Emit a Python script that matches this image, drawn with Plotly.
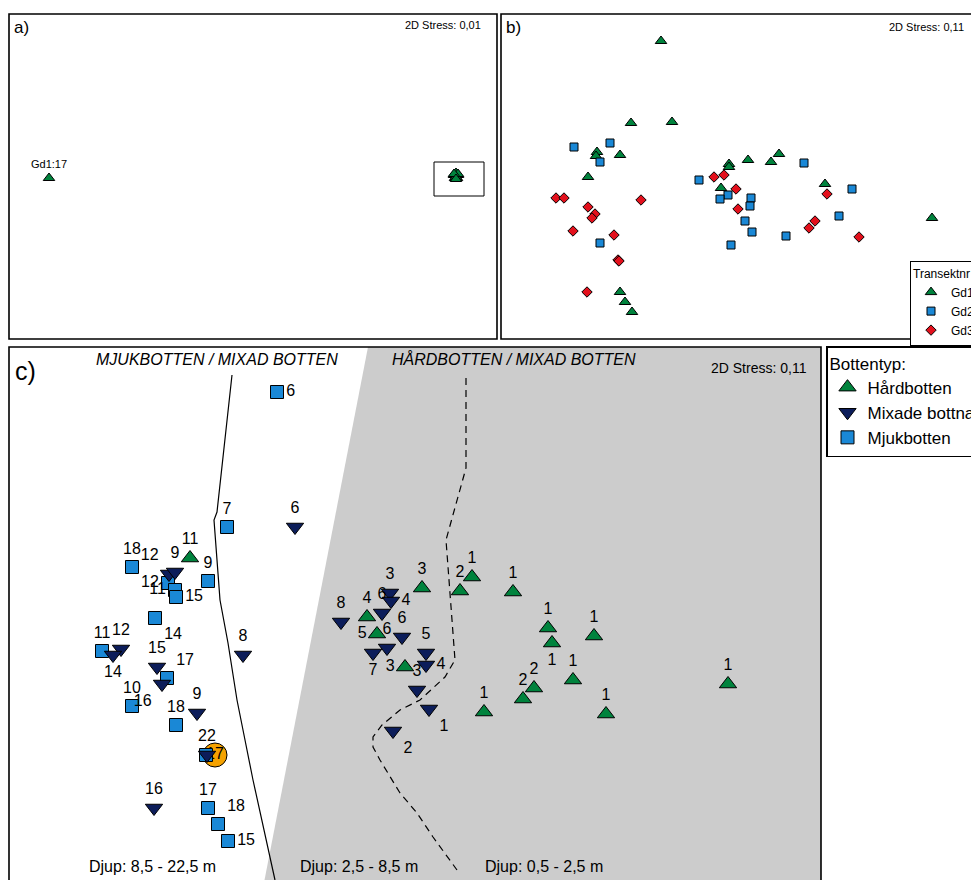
import plotly.graph_objects as go

W, H = 979, 880
OFF = 8  # the page body margin that the browser adds around the plot

# ---------------- Panel a (NMDS, all transects, stress 0.01) ----------------
a_gd1_x = [-2.04, 2.01, 2.05, 2.03, 2.02, 2.04, 2.03, 2.05, 2.01, 2.03]
a_gd1_y = [-0.01, 0.02, 0.02, 0.04, -0.01, -0.01, 0.00, 0.03, 0.03, -0.02]
a_gd1_lab = ["Gd1:17", "", "", "", "", "", "", "", "", ""]
a_box_x = [1.81, 2.31]
a_box_y = [-0.19, 0.15]

# ---------------- Panel b (NMDS per transect, stress 0.11) ----------------
b_gd1_x = [-0.79, -1.09, -0.68, -1.43, -1.44, -1.20, -1.52, -0.11, -0.11, 0.08, 0.39, 0.31, -0.19, 0.85, 1.92, -1.20, -1.15, -1.08]
b_gd1_y = [1.36, 0.54, 0.55, 0.25, 0.21, 0.22, 0.00, 0.13, 0.10, 0.17, 0.23, 0.15, -0.11, -0.07, -0.41, -1.15, -1.25, -1.35]
b_gd2_x = [-1.66, -1.30, -1.40, -0.41, 0.64, -0.12, -0.20, 0.11, 0.10, 1.12, 0.99, 0.05, 0.12, 0.46, -0.09, -1.40]
b_gd2_y = [0.30, 0.34, 0.15, -0.03, 0.14, -0.18, -0.22, -0.21, -0.29, -0.12, -0.39, -0.44, -0.55, -0.59, -0.68, -0.66]
b_gd3_x = [-0.26, -0.16, -0.04, -0.02, -1.84, -1.76, -1.52, -1.45, -1.48, -0.99, -1.67, -1.26, -1.22, -1.21, -1.53, 0.87, 0.75, 0.69, 1.19]
b_gd3_y = [0.00, 0.02, -0.12, -0.32, -0.21, -0.21, -0.30, -0.37, -0.41, -0.23, -0.54, -0.58, -0.83, -0.84, -1.15, -0.17, -0.44, -0.51, -0.60]

# ---------------- Panel c (NMDS by bottom type, stress 0.11) ----------------
hard_x = [-2.25, 0.07, 0.45, 0.57, 0.98, 1.33, 1.37, 1.79, 1.58, 1.19, 1.08, 0.69, 1.91, 3.13, -0.48, -0.38, -0.10]
hard_y = [0.55, 0.25, 0.22, 0.36, 0.21, -0.15, -0.30, -0.23, -0.67, -0.75, -0.86, -0.99, -1.01, -0.71, -0.04, -0.21, -0.54]
hard_lab = ["11", "3", "2", "1", "1", "1", "1", "1", "1", "2", "2", "1", "1", "1", "4", "5", "3"]
hard_pos = ["top center"] * 6 + ["bottom center"] + ["top center"] * 7 + ["top center", "middle left", "middle left"]

mixed_x = [-2.46, -2.40, -2.94, -3.02, -2.58, -2.53, -1.72, -2.18, -2.08, -2.61, -1.20,
           -0.25, -0.24, -0.33, -0.74, -0.13, -0.42, -0.28, 0.11, 0.11, 0.02, 0.14, -0.22]
mixed_y = [0.39, 0.41, -0.36, -0.42, -0.54, -0.71, -0.42, -1.00, -1.42, -1.95, 0.86,
           0.20, 0.12, 0.00, -0.09, -0.24, -0.40, -0.35, -0.40, -0.52, -0.77, -0.96, -1.18]
mixed_lab = ["12", "9", "12", "14", "15", "16", "8", "9", "22", "16", "6",
             "3", "4", "6", "8", "6", "7", "6", "5", "4", "3", "1", "2"]
mixed_pos = ["top left", "top center", "top center", "bottom center", "top center", "bottom left",
             "top center", "top center", "top center", "top center", "top center",
             "top center", "middle right", "top center", "top center", "top center", "bottom center",
             "top center", "top center", "middle right", "top center", "bottom right", "bottom right"]

soft_x = [-1.38, -1.88, -2.83, -2.47, -2.07, -2.40, -2.39, -2.60, -3.13, -2.48, -2.83, -2.39, -2.09, -2.07, -1.97, -1.87]
soft_y = [2.21, 0.86, 0.46, 0.30, 0.32, 0.23, 0.16, -0.05, -0.38, -0.65, -0.93, -1.12, -1.42, -1.95, -2.11, -2.28]
soft_lab = ["6", "7", "18", "12", "9", "11", "15", "14", "11", "17", "10", "18", "", "17", "18", "15"]
soft_pos = ["middle right", "top center", "top center", "middle left", "top center", "middle left",
            "middle right", "bottom right", "top center", "top right", "top center", "top center",
            "top center", "top center", "top right", "middle right"]

outlier_x = [-2.00]
outlier_y = [-1.42]
outlier_lab = ["17"]

# boundary lines and shaded zone in panel c
solid_x = [-1.83, -1.98, -2.01, -2.00, -1.95, -1.87, -1.78, -1.70, -1.62, -1.40, -1.36]
solid_y = [2.38, 1.01, 0.93, 0.78, 0.13, -0.30, -0.87, -1.27, -1.67, -2.67, -2.80]
dash_x = [0.51, 0.51, 0.31, 0.37, 0.40, 0.30, 0.05, -0.15, -0.33, -0.42, -0.42, -0.35, -0.15, 0.02, 0.18, 0.42]
dash_y = [2.35, 1.45, 0.73, -0.04, -0.47, -0.64, -0.87, -0.97, -1.12, -1.24, -1.34, -1.47, -1.80, -2.00, -2.24, -2.57]
grey_x = [-0.47, 4.10, 4.10, -1.53]
grey_y = [2.66, 2.66, -2.80, -2.80]

GREEN = "#00833d"
BLUE = "#1a88d6"
RED = "#e3101c"
NAVY = "#0c1d5a"
ORANGE = "#f5a200"
GREY = "#cccccc"
FONT = "Arial, 'Liberation Sans', Helvetica, sans-serif"
OUT = dict(color="black", width=1)


def pxx(x):
    return (x - OFF) / W


def pxy(y):
    return 1 - (y - OFF) / H


def xr(p0, p1, c):
    return [(p0 - c) / 100, (p1 - c) / 100]


def yr(top, bottom, c):
    return [(c - bottom) / 100, (c - top) / 100]


fig = go.Figure()

# ---- panel a
fig.add_trace(go.Scatter(x=a_gd1_x, y=a_gd1_y, mode="markers+text", text=a_gd1_lab,
                         textposition="top center", textfont=dict(size=11, color="black"),
                         marker=dict(symbol="triangle-up", size=10, color=GREEN, line=OUT),
                         xaxis="x", yaxis="y", showlegend=False, hoverinfo="skip"))

# ---- panel b
for name, xs, ys, sym, col, sz in [("Gd1", b_gd1_x, b_gd1_y, "triangle-up", GREEN, 10),
                                   ("Gd2", b_gd2_x, b_gd2_y, "square", BLUE, 8),
                                   ("Gd3", b_gd3_x, b_gd3_y, "diamond", RED, 8)]:
    fig.add_trace(go.Scatter(x=xs, y=ys, mode="markers", name=name,
                             marker=dict(symbol=sym, size=sz, color=col, line=OUT),
                             xaxis="x2", yaxis="y2", legend="legend"))

# ---- panel c
fig.add_trace(go.Scatter(x=solid_x, y=solid_y, mode="lines", line=dict(color="black", width=1.2),
                         xaxis="x3", yaxis="y3", showlegend=False, hoverinfo="skip"))
fig.add_trace(go.Scatter(x=dash_x, y=dash_y, mode="lines", line=dict(color="black", width=1.2, dash="7px,5px"),
                         xaxis="x3", yaxis="y3", showlegend=False, hoverinfo="skip"))
fig.add_trace(go.Scatter(x=outlier_x, y=outlier_y, mode="markers+text", text=outlier_lab,
                         textposition="middle center", textfont=dict(size=16, color="black"),
                         marker=dict(symbol="circle", size=24, color=ORANGE, line=OUT),
                         xaxis="x3", yaxis="y3", showlegend=False))
fig.add_trace(go.Scatter(x=soft_x, y=soft_y, mode="markers+text", name="Mjukbotten",
                         text=soft_lab, textposition=soft_pos, textfont=dict(size=16, color="black"),
                         marker=dict(symbol="square", size=13, color=BLUE, line=OUT),
                         xaxis="x3", yaxis="y3", legend="legend2", legendrank=3))
fig.add_trace(go.Scatter(x=mixed_x, y=mixed_y, mode="markers+text", name="Mixade bottnar",
                         text=mixed_lab, textposition=mixed_pos, textfont=dict(size=16, color="black"),
                         marker=dict(symbol="triangle-down", size=15, color=NAVY, line=OUT),
                         xaxis="x3", yaxis="y3", legend="legend2", legendrank=2))
fig.add_trace(go.Scatter(x=hard_x, y=hard_y, mode="markers+text", name="Hårdbotten",
                         text=hard_lab, textposition=hard_pos, textfont=dict(size=16, color="black"),
                         marker=dict(symbol="triangle-up", size=15, color=GREEN, line=OUT),
                         xaxis="x3", yaxis="y3", legend="legend2", legendrank=1))

axc = dict(showgrid=False, zeroline=False, showticklabels=False, ticks="", showline=False, fixedrange=True)

grey_path = "M " + " L ".join(f"{gx},{gy}" for gx, gy in zip(grey_x, grey_y)) + " Z"

shapes = [
    dict(type="path", xref="x3", yref="y3", path=grey_path, fillcolor=GREY, line=dict(width=0), layer="below"),
    dict(type="rect", xref="x", yref="y", x0=a_box_x[0], x1=a_box_x[1], y0=a_box_y[0], y1=a_box_y[1],
         line=dict(color="black", width=1)),
    # panel borders
    dict(type="rect", xref="paper", yref="paper", x0=pxx(9), x1=pxx(497), y0=pxy(339), y1=pxy(14),
         line=dict(color="black", width=1.6)),
    dict(type="rect", xref="paper", yref="paper", x0=pxx(501), x1=pxx(995), y0=pxy(339), y1=pxy(14),
         line=dict(color="black", width=1.6)),
    dict(type="rect", xref="paper", yref="paper", x0=pxx(9), x1=pxx(821), y0=pxy(900), y1=pxy(347),
         line=dict(color="black", width=1.6)),
]

ann = []


def txt(s, x, y, size, xanchor="left", italic=False):
    ann.append(dict(text=f"<i>{s}</i>" if italic else s, x=pxx(x), y=pxy(y), xref="paper", yref="paper",
                    xanchor=xanchor, yanchor="middle", showarrow=False,
                    font=dict(size=size, color="black", family=FONT)))


txt("a)", 12, 28, 17)
txt("2D Stress: 0,01", 483, 25, 11, "right")
txt("b)", 504, 28, 17)
txt("2D Stress: 0,11", 966, 27, 11, "right")
txt("c)", 13, 371, 25)
txt("MJUKBOTTEN / MIXAD BOTTEN", 217, 359, 16, "center", italic=True)
txt("HÅRDBOTTEN / MIXAD BOTTEN", 514, 359, 16, "center", italic=True)
txt("2D Stress: 0,11", 809, 368, 14, "right")
txt("Djup: 8,5 - 22,5 m", 87, 866, 16)
txt("Djup: 2,5 - 8,5 m", 298, 866, 16)
txt("Djup: 0,5 - 2,5 m", 483, 866, 16)

fig.update_layout(
    width=W, height=H, autosize=False,
    margin=dict(l=0, r=0, t=0, b=0, pad=0, autoexpand=False),
    paper_bgcolor="white", plot_bgcolor="white",
    font=dict(family=FONT, color="black"),
    xaxis=dict(domain=[pxx(9), pxx(497)], range=xr(9, 497, 253), anchor="y", **axc),
    yaxis=dict(domain=[pxy(339), pxy(14)], range=yr(14, 339, 177), anchor="x", **axc),
    xaxis2=dict(domain=[pxx(501), 1], range=xr(501, W + OFF, 740), anchor="y2", **axc),
    yaxis2=dict(domain=[pxy(339), pxy(14)], range=yr(14, 339, 177), anchor="x2", **axc),
    xaxis3=dict(domain=[pxx(9), pxx(821)], range=xr(9, 821, 415), anchor="y3", **axc),
    yaxis3=dict(domain=[0, pxy(347)], range=yr(347, H + OFF, 613), anchor="x3", **axc),
    shapes=shapes,
    annotations=ann,
    legend=dict(x=pxx(910), y=pxy(261), xanchor="left", yanchor="top", bgcolor="white",
                bordercolor="black", borderwidth=1, font=dict(size=12, family=FONT),
                title=dict(text="Transektnr", font=dict(size=12, family=FONT)),
                itemsizing="trace", tracegroupgap=0),
    legend2=dict(x=pxx(826), y=pxy(346), xanchor="left", yanchor="top", bgcolor="white",
                 bordercolor="black", borderwidth=1.5, font=dict(size=17, family=FONT),
                 title=dict(text="Bottentyp:", font=dict(size=17, family=FONT)),
                 itemsizing="trace", tracegroupgap=0),
    showlegend=True,
)

fig.write_html("out.html")
